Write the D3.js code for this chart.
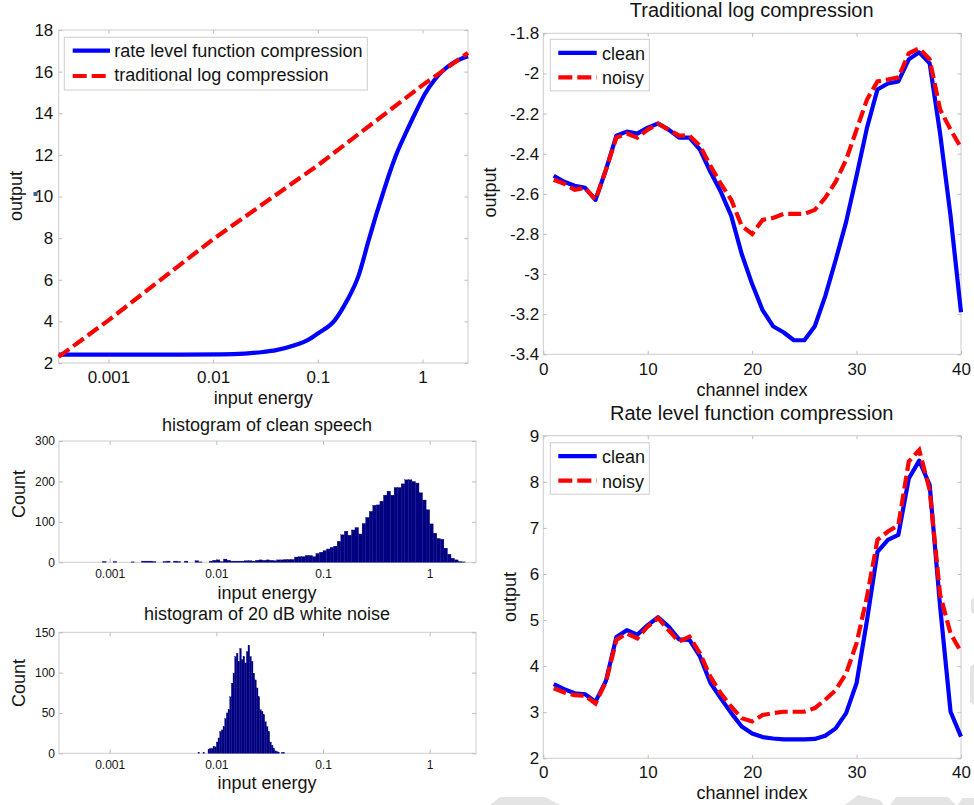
<!DOCTYPE html>
<html>
<head>
<meta charset="utf-8">
<script src="https://cdn.jsdelivr.net/npm/d3@7"></script>
<style>
  body { margin: 0; background: #fff; }
  svg { display: block; }
  text { font-family: "Liberation Sans", Arial, Helvetica, sans-serif; fill: #141414; }
</style>
</head>
<body>
<svg id="chart" width="974" height="805"></svg>
<script>
// ---------- compression curves (output vs. input energy) ----------
const energyDomain = [0.000335, 2.718];
const energyTicks = [0.001, 0.01, 0.1, 1];

const rlfEnergy = [0.000335, 0.001, 0.005, 0.012, 0.02, 0.03, 0.04, 0.06, 0.08, 0.1,
  0.145, 0.19, 0.245, 0.306, 0.35, 0.41, 0.49, 0.57, 0.7, 0.85, 1.06, 1.3, 1.53, 2.0, 2.718];
const rlfOutput = [2.4, 2.4, 2.4, 2.41, 2.45, 2.53, 2.62, 2.85, 3.1, 3.42,
  4.05, 5.0, 6.2, 7.9, 8.9, 10.0, 11.2, 12.1, 13.1, 14.0, 14.95, 15.6, 16.0, 16.45, 16.74];

const logEnergy = [0.000335, 0.001, 0.01, 0.1, 1, 2.718];
const logOutput = [2.3, 4.05, 7.95, 11.5, 15.35, 16.9];

const outputTicks = [2, 4, 6, 8, 10, 12, 14, 16, 18];

// ---------- histograms (log-spaced bins: first bin index, bins per decade, counts) ----------
const speechFirstBin = -92;
const speechBinsPerDecade = 30;
const speechCounts = [
  2, 0, 0, 2, 0, 0, 0, 0, 1, 0,
  0, 3, 3, 3, 2, 0, 0, 2, 3, 0,
  3, 2, 0, 3, 0, 0, 4, 1, 0, 0,
  3, 5, 6, 2, 8, 5, 3, 3, 3, 3,
  4, 4, 3, 5, 6, 5, 6, 5, 4, 6,
  6, 7, 7, 7, 13, 14, 14, 17, 17, 14,
  22, 25, 29, 33, 37, 40, 52, 68, 77, 67,
  80, 86, 70, 96, 111, 126, 141, 142, 151, 166,
  176, 166, 185, 185, 194, 204, 204, 200, 196, 172,
  154, 130, 95, 72, 59, 57, 35, 20, 10, 6,
  2, 1
];
const speechCountTicks = [0, 100, 200, 300];

const noiseFirstBin = -139;
const noiseBinsPerDecade = 64;
const noiseCounts = [
  1, 0, 0, 1, 0, 0,
  5, 6, 6, 8, 8, 14, 19, 27, 29, 33,
  43, 50, 54, 70, 87, 99, 120, 124, 114, 130,
  116, 120, 112, 126, 134, 120, 114, 99, 91, 81,
  70, 54, 52, 48, 39, 33, 27, 14, 10, 6,
  3, 2, 1, 0, 1, 1
];
const noiseCountTicks = [0, 50, 100, 150];

// ---------- per-channel outputs ----------
const channels = d3.range(1, 41);
const channelTicks = [0, 10, 20, 30, 40];

const logClean = [-2.51, -2.54, -2.56, -2.57, -2.63, -2.48, -2.31, -2.29, -2.30, -2.27,
  -2.25, -2.28, -2.32, -2.32, -2.38, -2.49, -2.59, -2.71, -2.90, -3.05,
  -3.18, -3.26, -3.29, -3.33, -3.33, -3.26, -3.11, -2.93, -2.74, -2.51,
  -2.27, -2.08, -2.05, -2.04, -1.93, -1.895, -1.95, -2.30, -2.71, -3.19];
const logNoisy = [-2.53, -2.55, -2.58, -2.57, -2.63, -2.48, -2.32, -2.30, -2.32, -2.28,
  -2.25, -2.28, -2.31, -2.31, -2.36, -2.46, -2.55, -2.63, -2.76, -2.80,
  -2.73, -2.72, -2.70, -2.70, -2.70, -2.68, -2.62, -2.54, -2.43, -2.28,
  -2.13, -2.04, -2.03, -2.02, -1.90, -1.875, -1.93, -2.18, -2.28, -2.37];
const logTicks = [-3.4, -3.2, -3, -2.8, -2.6, -2.4, -2.2, -2, -1.8];

const rlfClean = [3.61, 3.50, 3.41, 3.39, 3.23, 3.68, 4.63, 4.78, 4.68, 4.89,
  5.06, 4.86, 4.58, 4.57, 4.21, 3.64, 3.30, 2.98, 2.69, 2.54,
  2.46, 2.43, 2.41, 2.41, 2.41, 2.42, 2.49, 2.65, 2.98, 3.63,
  5.00, 6.48, 6.74, 6.85, 8.07, 8.46, 7.93, 5.29, 3.01, 2.47];
const rlfNoisy = [3.52, 3.43, 3.37, 3.36, 3.19, 3.66, 4.57, 4.71, 4.60, 4.86,
  5.04, 4.78, 4.53, 4.64, 4.28, 3.77, 3.41, 3.12, 2.87, 2.80,
  2.94, 2.98, 3.01, 3.01, 3.01, 3.09, 3.27, 3.48, 3.84, 4.50,
  5.51, 6.74, 6.92, 7.06, 8.44, 8.69, 7.82, 5.55, 4.71, 4.31];
const rlfTicks = [2, 3, 4, 5, 6, 7, 8, 9];

// ---------- styles ----------
const BLUE = "#0000ff", RED = "#ff0000", NAVY = "#000080";
const BOX = "#cdcdcd", TICK = "#bdbdbd";
const DASH = "13,5";

const svg = d3.select("#chart");

// faint grey marks along the lower and right page edges
const edgeMarks = svg.append("g").attr("fill", "#e4e4e4");
edgeMarks.append("path").attr("d", "M490,805 L500,797 L545,797 L560,805 Z");
edgeMarks.append("path").attr("d", "M845,805 L858,795 L880,800 L884,805 Z");
edgeMarks.append("path").attr("d", "M890,805 L896,797 L948,797 L956,805 Z");
edgeMarks.append("path").attr("d", "M958,805 L962,798 L974,798 L974,805 Z");
edgeMarks.append("path").attr("d", "M970,667 L974,664 L974,705 L970,702 Z");
edgeMarks.append("path").attr("d", "M971,600 L974,598 L974,614 L971,612 Z");

function frame(g, x, y, o) {
  const [y0, y1] = y.range();
  const [x0, x1] = x.range();
  const style = sel => {
    sel.attr("font-family", null).attr("font-size", null);
    sel.select(".domain").remove();
    sel.selectAll(".tick line").attr("stroke", TICK);
    sel.selectAll(".tick text").style("font-size", o.font + "px").attr("fill", "#141414");
  };
  g.append("rect").attr("x", x0).attr("y", y1).attr("width", x1 - x0).attr("height", y0 - y1)
    .attr("fill", "#fff").attr("stroke", BOX);
  g.append("g").attr("transform", `translate(0,${y0})`)
    .call(d3.axisBottom(x).tickValues(o.xTicks).tickFormat(o.xFmt)
      .tickSizeInner(-o.tick).tickSizeOuter(0).tickPadding(o.xPad)).call(style);
  g.append("g").attr("transform", `translate(0,${y1})`)
    .call(d3.axisTop(x).tickValues(o.xTicks).tickFormat("")
      .tickSizeInner(-o.tick).tickSizeOuter(0)).call(style);
  g.append("g").attr("transform", `translate(${x0},0)`)
    .call(d3.axisLeft(y).tickValues(o.yTicks).tickFormat(o.yFmt)
      .tickSizeInner(-o.tick).tickSizeOuter(0).tickPadding(o.yPad)).call(style);
  g.append("g").attr("transform", `translate(${x1},0)`)
    .call(d3.axisRight(y).tickValues(o.yTicks).tickFormat("")
      .tickSizeInner(-o.tick).tickSizeOuter(0)).call(style);
}

function label(g, txt, x, y, size, rotate) {
  const t = g.append("text").attr("text-anchor", "middle").style("font-size", size + "px").text(txt);
  if (rotate) t.attr("transform", `translate(${x},${y}) rotate(-90)`);
  else t.attr("x", x).attr("y", y);
  return t;
}

function legend(g, box, rows) {
  g.append("rect").attr("x", box[0]).attr("y", box[1]).attr("width", box[2]).attr("height", box[3])
    .attr("fill", "#fff").attr("stroke", BOX);
  rows.forEach(r => {
    g.append("line").attr("x1", r.x1).attr("x2", r.x2).attr("y1", r.ly).attr("y2", r.ly)
      .attr("stroke", r.color).attr("stroke-width", 4.2)
      .attr("stroke-dasharray", r.dash ? "14,5" : null);
    g.append("text").attr("x", r.tx).attr("y", r.ty).style("font-size", "18px").text(r.text);
  });
}

const numFmt = d => String(+d.toFixed(3));

// ===== Panel 1: compression functions =====
{
  const g = svg.append("g");
  const x = d3.scaleLog().domain(energyDomain).range([58.7, 468]);
  const y = d3.scaleLinear().domain([2, 18]).range([363, 30]);
  frame(g, x, y, { xTicks: energyTicks, yTicks: outputTicks, xFmt: numFmt, yFmt: numFmt,
    tick: 3.5, xPad: 7.7, yPad: 5.4, font: 17 });

  const line = d3.line().x(d => x(d[0])).y(d => y(d[1]));
  g.append("path").datum(d3.zip(rlfEnergy, rlfOutput))
    .attr("d", line.curve(d3.curveMonotoneX))
    .attr("fill", "none").attr("stroke", BLUE).attr("stroke-width", 4.2).attr("stroke-linejoin", "round");
  g.append("path").datum(d3.zip(logEnergy, logOutput))
    .attr("d", line.curve(d3.curveLinear))
    .attr("fill", "none").attr("stroke", RED).attr("stroke-width", 4.2)
    .attr("stroke-dasharray", DASH);

  legend(g, [64.3, 37.3, 303, 52.7], [
    { x1: 72.7, x2: 110, ly: 50.7, color: BLUE, dash: false, tx: 114.3, ty: 56.6, text: "rate level function compression" },
    { x1: 72.7, x2: 110, ly: 76, color: RED, dash: true, tx: 114.3, ty: 81.4, text: "traditional log compression" }
  ]);

  label(g, "input energy", 263.3, 404, 18);
  label(g, "output", 21.5, 196, 18, true);
  g.append("rect").attr("x", 33.5).attr("y", 192).attr("width", 4).attr("height", 4)
    .attr("fill", "#3f5f8f");
}

// ===== Panels 2 & 3: histograms =====
function histogram(top, bottom, counts, firstBin, perDecade, yMax, yTicks, title, titleY, xLabelY, countY) {
  const g = svg.append("g");
  const x = d3.scaleLog().domain(energyDomain).range([59, 476]);
  const y = d3.scaleLinear().domain([0, yMax]).range([bottom, top]);
  frame(g, x, y, { xTicks: energyTicks, yTicks: yTicks, xFmt: numFmt, yFmt: numFmt,
    tick: 4, xPad: 7, yPad: 4, font: 12 });
  const bins = counts.map((c, i) => ({
    lo: Math.pow(10, (firstBin + i) / perDecade),
    hi: Math.pow(10, (firstBin + i + 1) / perDecade),
    c
  })).filter(b => b.c > 0);
  g.append("g").selectAll("rect").data(bins).join("rect")
    .attr("x", b => x(b.lo)).attr("width", b => x(b.hi) - x(b.lo))
    .attr("y", b => y(b.c)).attr("height", b => y(0) - y(b.c))
    .attr("fill", NAVY).attr("stroke", NAVY).attr("stroke-width", 0.3);
  label(g, title, 267, titleY, 18);
  label(g, "input energy", 267, xLabelY, 18);
  label(g, "Count", 25, countY, 18, true);
}

histogram(441, 562.3, speechCounts, speechFirstBin, speechBinsPerDecade, 300, speechCountTicks,
  "histogram of clean speech", 430.5, 599, 494);
histogram(632.3, 753.3, noiseCounts, noiseFirstBin, noiseBinsPerDecade, 150, noiseCountTicks,
  "histogram of 20 dB white noise", 620, 789, 683);

// ===== Panels 4 & 5: per-channel outputs =====
function channelPanel(top, bottom, yDomain, yTicks, clean, noisy, title, titleY, xLabelY, outX, outY, legendTop, xPad) {
  const g = svg.append("g");
  const x = d3.scaleLinear().domain([0, 40]).range([543.3, 961]);
  const y = d3.scaleLinear().domain(yDomain).range([bottom, top]);
  frame(g, x, y, { xTicks: channelTicks, yTicks: yTicks, xFmt: numFmt, yFmt: numFmt,
    tick: 3.5, xPad: xPad, yPad: 4, font: 17 });
  const line = d3.line().x((d, i) => x(channels[i])).y(d => y(d));
  g.append("path").datum(clean).attr("d", line)
    .attr("fill", "none").attr("stroke", BLUE).attr("stroke-width", 4.2).attr("stroke-linejoin", "round");
  g.append("path").datum(noisy).attr("d", line)
    .attr("fill", "none").attr("stroke", RED).attr("stroke-width", 4.2)
    .attr("stroke-dasharray", DASH);
  legend(g, [550.3, legendTop, 99, 51.5], [
    { x1: 558.3, x2: 596.7, ly: legendTop + 13.5, color: BLUE, dash: false, tx: 602, ty: legendTop + 20.7, text: "clean" },
    { x1: 558.3, x2: 596.7, ly: legendTop + 38, color: RED, dash: true, tx: 602, ty: legendTop + 45, text: "noisy" }
  ]);
  label(g, title, 751.7, titleY, 20);
  label(g, "channel index", 752, xLabelY, 18);
  label(g, "output", outX, outY, 18, true);
}

channelPanel(33.3, 354.3, [-3.4, -1.8], logTicks, logClean, logNoisy,
  "Traditional log compression", 17, 396, 496.2, 192.5, 39.3, 8.6);
channelPanel(435.7, 758.3, [2, 9], rlfTicks, rlfClean, rlfNoisy,
  "Rate level function compression", 420, 799, 516.2, 597, 442.7, 8);
</script>
</body>
</html>
